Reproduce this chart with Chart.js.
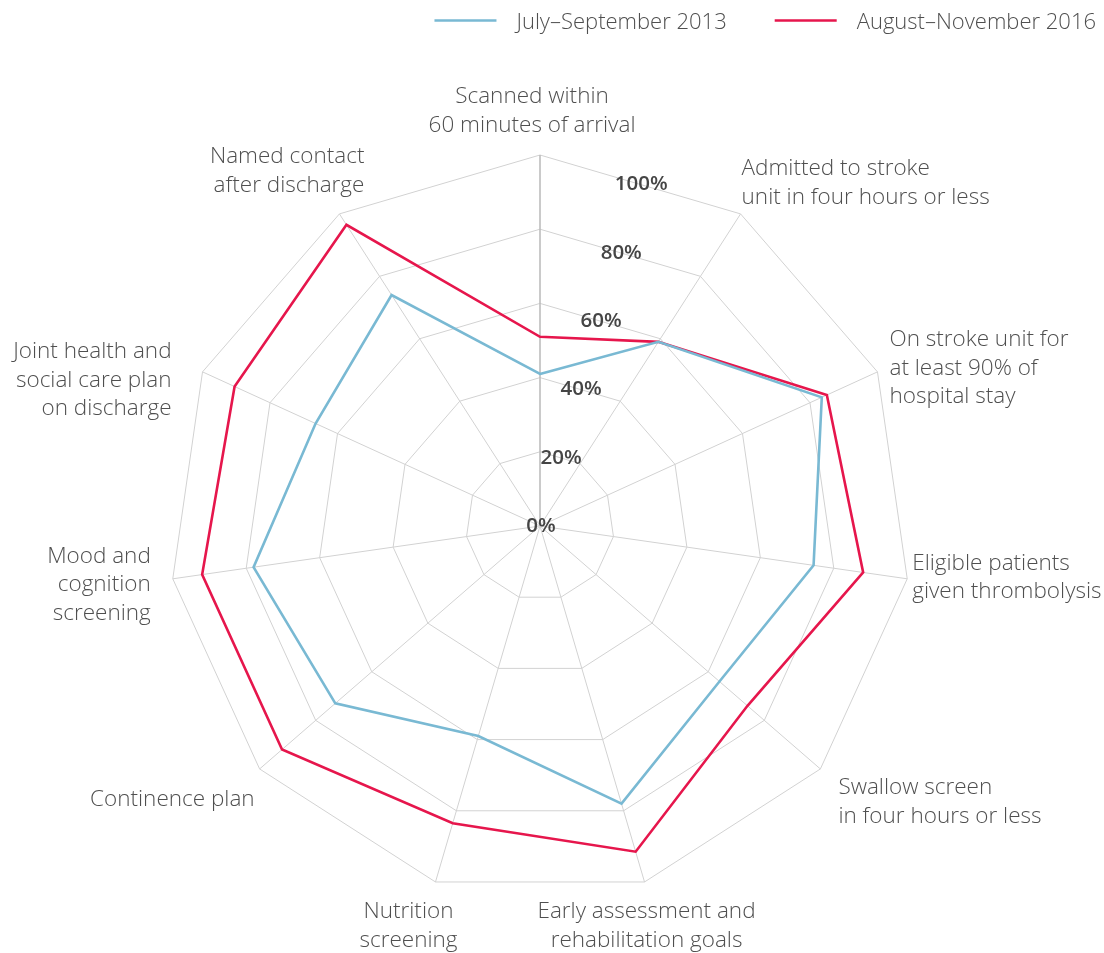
<!DOCTYPE html>
<html><head><meta charset="utf-8">
<script src="https://cdn.jsdelivr.net/npm/chart.js@4.4.1/dist/chart.umd.min.js"></script>
<style>html,body{margin:0;padding:0;background:#fff;}#wrap{width:1104px;height:953px;position:relative;}</style>
</head><body><div id="wrap"><canvas id="c"></canvas></div>
<script>
const categories = [
  ['Scanned within', '60 minutes of arrival'],
  ['Admitted to stroke', 'unit in four hours or less'],
  ['On stroke unit for', 'at least 90% of', 'hospital stay'],
  ['Eligible patients', 'given thrombolysis'],
  ['Swallow screen', 'in four hours or less'],
  ['Early assessment and', 'rehabilitation goals'],
  ['Nutrition', 'screening'],
  ['Continence plan'],
  ['Mood and', 'cognition', 'screening'],
  ['Joint health and', 'social care plan', 'on discharge'],
  ['Named contact', 'after discharge']
];
const seriesNames = ['July–September 2013', 'August–November 2016'];
const values2013 = [41, 59, 83.5, 74.5, 64, 78, 59, 73, 78, 66.5, 74];
const values2016 = [51, 59, 85, 88, 74, 91.5, 83.5, 92, 92, 90.5, 96.5];
const tickValues = [0, 20, 40, 60, 80, 100];
const tickLabels = ['0%', '20%', '40%', '60%', '80%', '100%'];

const FONT = '"Open Sans"';
const TEXT_COLOR = '#4f4f4f';
const COLORS = ['#79b9d3', '#e6164c'];
// label placement relative to each outer vertex of the radar grid
const labelLayout = [
  {align: 'center', dx: -8, dy: -52},
  {align: 'left', dx: 1, dy: -39},
  {align: 'left', dx: 12, dy: -26},
  {align: 'left', dx: 5, dy: -9},
  {align: 'left', dx: 18, dy: 25},
  {align: 'center', dx: 2, dy: 36},
  {align: 'center', dx: -27, dy: 36},
  {align: 'right', dx: -5, dy: 37},
  {align: 'right', dx: -22, dy: -16},
  {align: 'right', dx: -31, dy: -14},
  {align: 'right', dx: 25, dy: -51}
];
const LINE_H = 28.7;

const labelsPlugin = {
  id: 'customText',
  afterDraw(chart) {
    const ctx = chart.ctx;
    const r = chart.scales.r;
    const n = chart.data.labels.length;
    ctx.save();
    // category labels
    ctx.font = '300 22.5px ' + FONT;
    ctx.fillStyle = TEXT_COLOR;
    ctx.textBaseline = 'alphabetic';
    chart.data.labels.forEach((lab, i) => {
      const p = r.getPointPosition(i, r.drawingArea);
      const L = labelLayout[i];
      ctx.textAlign = L.align;
      lab.forEach((line, j) => {
        ctx.fillText(line, p.x + L.dx, p.y + L.dy + j * LINE_H);
      });
    });
    // tick labels placed between first two spokes
    ctx.font = '600 20.5px ' + FONT;
    ctx.fillStyle = '#454545';
    ctx.textAlign = 'center';
    ctx.textBaseline = 'middle';
    const half = Math.PI / n;
    tickValues.forEach((v, k) => {
      const d = r.getDistanceFromCenterForValue(v) * Math.cos(half);
      const p = r.getPointPosition(0, d, half);
      ctx.fillText(tickLabels[k], p.x + 1, p.y);
    });
    // legend (right aligned at top)
    ctx.font = '300 22px ' + FONT;
    ctx.textAlign = 'left';
    ctx.textBaseline = 'alphabetic';
    let right = 1096;
    const items = chart.data.datasets.map(ds => ({text: ds.label, color: ds.borderColor}));
    for (let i = items.length - 1; i >= 0; i--) {
      const w = ctx.measureText(items[i].text).width;
      const tx = right - w;
      ctx.fillStyle = TEXT_COLOR;
      ctx.fillText(items[i].text, tx, 29);
      const lx2 = tx - 20;
      const lx1 = lx2 - 62;
      ctx.strokeStyle = items[i].color;
      ctx.lineWidth = 2.5;
      ctx.beginPath();
      ctx.moveTo(lx1, 20.5);
      ctx.lineTo(lx2, 20.5);
      ctx.stroke();
      right = lx1 - 48;
    }
    ctx.restore();
  }
};

new Chart(document.getElementById('c'), {
  type: 'radar',
  data: {
    labels: categories,
    datasets: [
      {label: seriesNames[0], data: values2013, borderColor: COLORS[0], backgroundColor: COLORS[0], borderWidth: 2.6, pointRadius: 0, fill: false},
      {label: seriesNames[1], data: values2016, borderColor: COLORS[1], backgroundColor: COLORS[1], borderWidth: 2.6, pointRadius: 0, fill: false}
    ]
  },
  options: {
    responsive: true,
    maintainAspectRatio: false,
    animation: false,
    layout: {padding: {left: 169, right: 193, top: 155, bottom: 56}},
    plugins: {legend: {display: false}, tooltip: {enabled: false}},
    scales: {
      r: {
        min: 0, max: 100,
        ticks: {display: false, stepSize: 20},
        pointLabels: {display: false},
        grid: {color: '#d2d2d2', lineWidth: 1},
        angleLines: {
          color: ctx => ctx.index === 0 ? '#bdbdbd' : '#d2d2d2',
          lineWidth: ctx => ctx.index === 0 ? 1.6 : 1
        }
      }
    }
  },
  plugins: [labelsPlugin]
});
</script>
</body></html>
